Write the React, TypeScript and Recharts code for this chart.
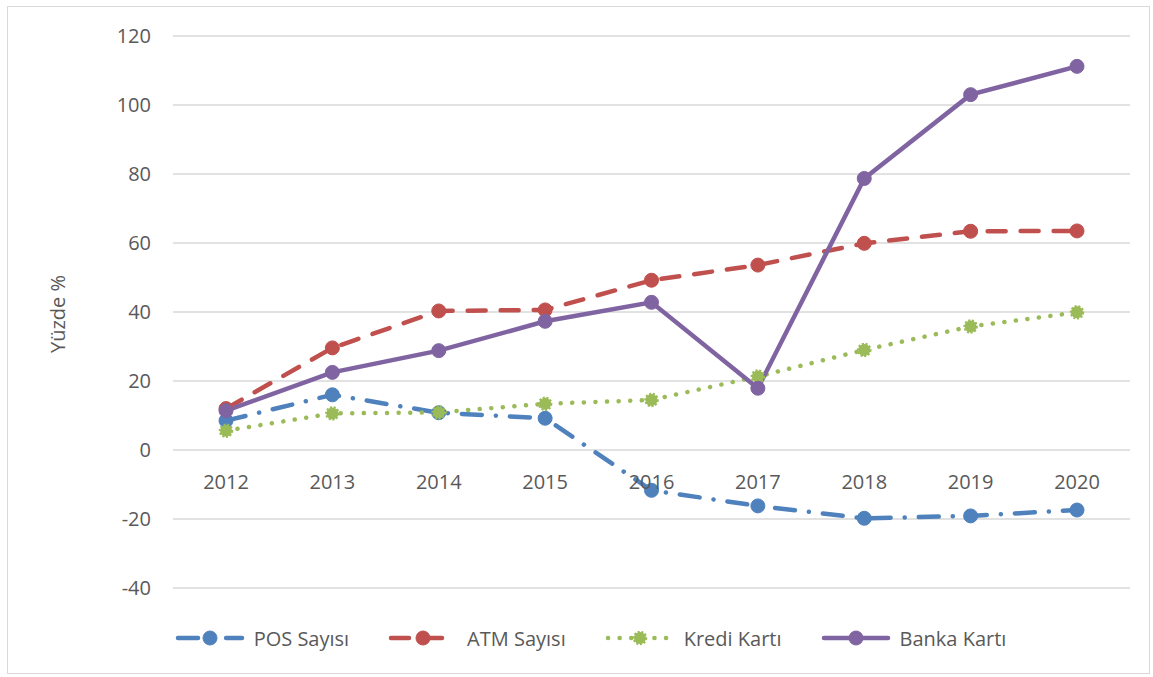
import React from 'react';
import { LineChart, Line, XAxis, YAxis, CartesianGrid, Legend } from 'recharts';

const years = ['2012', '2013', '2014', '2015', '2016', '2017', '2018', '2019', '2020'];
const posValues = [8.5, 16, 10.8, 9.2, -11.7, -16.2, -19.8, -19.1, -17.4];
const atmValues = [12, 29.6, 40.3, 40.6, 49.2, 53.6, 59.9, 63.4, 63.5];
const krediValues = [5.6, 10.6, 10.9, 13.4, 14.5, 21.3, 29, 35.8, 39.9];
const bankaValues = [11.4, 22.5, 28.8, 37.3, 42.8, 17.9, 78.7, 103, 111.2];
const yTicks = [-40, -20, 0, 20, 40, 60, 80, 100, 120];
const seriesNames = ['POS Sayısı', 'ATM Sayısı', 'Kredi Kartı', 'Banka Kartı'];
const seriesKeys = ['pos', 'atm', 'kredi', 'banka'];

const data = years.map((y, i) => ({
  year: y,
  pos: posValues[i],
  atm: atmValues[i],
  kredi: krediValues[i],
  banka: bankaValues[i],
}));

const COLORS = ['#4F81BD', '#C0504D', '#9BBB59', '#8064A2'];
const DASHES = ['20 14 0.1 14', '18 15', '0.1 11.5', undefined];
const FONT = '"Open Sans", sans-serif';
const TEXT = '#595959';

const W = 1153;
const H = 677;
const PLOT_TOP = 36;
const PLOT_BOTTOM = 588;
const Y_MIN = -40;
const Y_MAX = 120;
const ZERO_Y = PLOT_TOP + ((PLOT_BOTTOM - PLOT_TOP) * (Y_MAX - 0)) / (Y_MAX - Y_MIN);

const XTick = (props: any) => {
  const { x, payload } = props;
  return (
    <text x={x} y={ZERO_Y + 31} textAnchor="middle" dominantBaseline="central" fill={TEXT} fontSize={20} fontFamily={FONT}>
      {payload.value}
    </text>
  );
};

const makeDot = (idx: number) => (p: any) => {
  const c = COLORS[idx];
  if (p.cx == null || p.cy == null) return <g key={p.index} />;
  return (
    <circle
      key={p.index}
      cx={p.cx}
      cy={p.cy}
      r={idx === 2 ? 6 : 7}
      fill={c}
      stroke={c}
      strokeWidth={idx === 2 ? 2.5 : 1}
      strokeDasharray={idx === 2 ? '2 1.6' : undefined}
    />
  );
};

const LegendIcon = ({ idx }: { idx: number }) => {
  const c = COLORS[idx];
  return (
    <svg width={72} height={20} style={{ display: 'block' }}>
      <line x1={4} y1={10} x2={68} y2={10} stroke={c} strokeWidth={4.5} strokeLinecap="round" strokeDasharray={DASHES[idx]} />
      <circle cx={36} cy={10} r={idx === 2 ? 6 : 7} fill={c} stroke={c} strokeWidth={idx === 2 ? 2.5 : 1} strokeDasharray={idx === 2 ? '2 1.6' : undefined} />
    </svg>
  );
};

const LegendContent = () => (
  <div style={{ display: 'flex', justifyContent: 'center', alignItems: 'center', height: 40, gap: 38 }}>
    {seriesNames.map((n, i) => (
      <div key={n} style={{ display: 'flex', alignItems: 'center', gap: 8 }}>
        <LegendIcon idx={i} />
        <span style={{ fontFamily: FONT, fontSize: 20, color: TEXT, whiteSpace: 'nowrap' }}>{n}</span>
      </div>
    ))}
  </div>
);

const YLabel = () => (
  <text x={57} y={(PLOT_TOP + PLOT_BOTTOM) / 2 + 2} transform={`rotate(-90 57 ${(PLOT_TOP + PLOT_BOTTOM) / 2 + 2})`} textAnchor="middle" dominantBaseline="central" fill={TEXT} fontSize={20} fontFamily={FONT}>
    Yüzde %
  </text>
);

export default function App() {
  return (
    <div style={{ position: 'absolute', left: 0, top: 0, width: W, height: H, background: '#fff' }}>
      <div style={{ position: 'absolute', left: 7, top: 6, width: 1143, height: 668, border: '1px solid #D9D9D9', boxSizing: 'border-box' }} />
      <div style={{ position: 'absolute', left: 0, top: 0 }}>
        <LineChart width={W} height={H} data={data} margin={{ top: PLOT_TOP, right: 23, left: 0, bottom: 19 }}>
          <CartesianGrid vertical={false} stroke="#D9D9D9" strokeWidth={1.5} />
          <XAxis dataKey="year" height={30} padding={{ left: 53, right: 53 }} axisLine={false} tickLine={false} tick={<XTick />} interval={0} />
          <YAxis
            width={173}
            domain={[Y_MIN, Y_MAX]}
            ticks={yTicks}
            interval={0}
            axisLine={false}
            tickLine={false}
            tickSize={0}
            tickMargin={22}
            tick={{ fill: TEXT, fontSize: 20, fontFamily: FONT }}
            label={<YLabel />}
          />
          <Legend verticalAlign="bottom" height={40} wrapperStyle={{ left: 0, width: 1180 }} content={<LegendContent />} />
          {seriesKeys.map((k, i) => (
            <Line
              key={k}
              dataKey={k}
              name={seriesNames[i]}
              type="linear"
              stroke={COLORS[i]}
              strokeWidth={4.5}
              strokeLinecap="round"
              strokeDasharray={DASHES[i]}
              dot={makeDot(i)}
              activeDot={false}
              isAnimationActive={false}
            />
          ))}
        </LineChart>
      </div>
    </div>
  );
}
